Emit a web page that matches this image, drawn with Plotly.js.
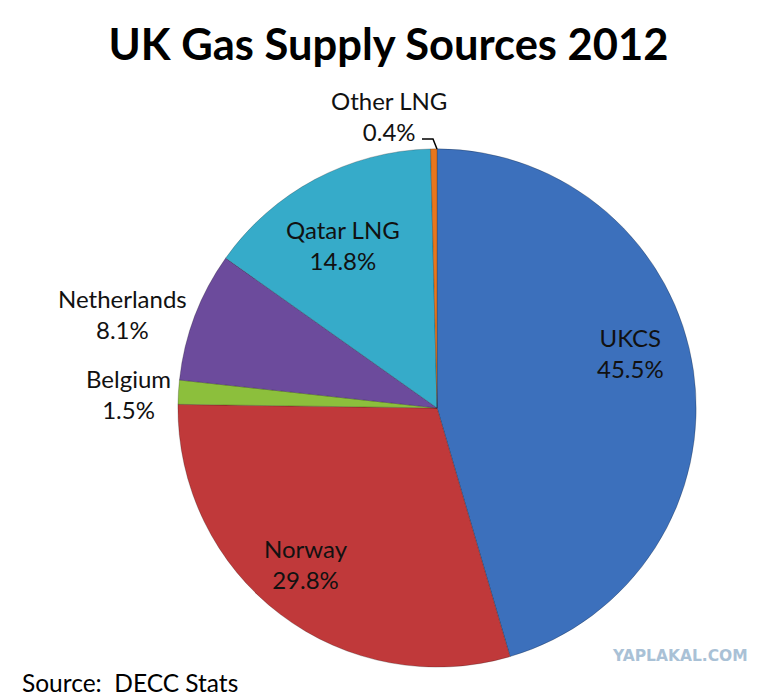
<!DOCTYPE html>
<html>
<head>
<meta charset="utf-8">
<script src="https://cdn.plot.ly/plotly-3.0.1.min.js"></script>
<style>html,body{margin:0;padding:0;background:#fff;}#chart{width:777px;height:698px;}</style>
</head>
<body>
<div id="chart"></div>
<script>
var categories = ["UKCS", "Norway", "Belgium", "Netherlands", "Qatar LNG", "Other LNG"];
var shares = [45.5, 29.8, 1.5, 8.1, 14.8, 0.4];
var sliceColors = ["#3c70bc", "#c0393a", "#8cbf3c", "#6c4b9c", "#36abc9", "#e8761c"];

var W = 777, H = 698;
var font = "Lato, 'Open Sans', sans-serif";
// label anchor points (pixels in the page) for each category
var labelPixel = [[630, 353], [306, 564], [128, 394], [123, 314], [343, 245], [389, 116]];

var trace = {
  type: "pie",
  labels: categories,
  values: shares,
  sort: false,
  direction: "clockwise",
  rotation: 0,
  marker: {colors: sliceColors, line: {color: "rgba(0,0,0,0.22)", width: 1}},
  textinfo: "none",
  hoverinfo: "label+percent",
  domain: {x: [0.229, 0.896], y: [0.044, 0.787]},
  showlegend: false
};

var annotations = categories.map(function(c, i){
  return {
    text: c + "<br>" + shares[i].toFixed(1) + "%",
    xref: "paper", yref: "paper",
    x: labelPixel[i][0] / W, y: 1 - labelPixel[i][1] / H,
    xanchor: "center", yanchor: "middle",
    showarrow: false, align: "center",
    font: {family: font, size: 24, color: "#111"}
  };
});
annotations.push(
  {text: "Source:  DECC Stats", xref: "paper", yref: "paper", x: 20 / W, y: 1 - 682 / H, xanchor: "left", yanchor: "middle", showarrow: false, font: {family: font, size: 24.5, color: "#000"}},
  {text: "<b>YAPLAKAL.COM</b>", xref: "paper", yref: "paper", x: 750 / W, y: 1 - 656 / H, xanchor: "right", yanchor: "middle", showarrow: false, font: {family: "'DejaVu Sans', sans-serif", size: 15.5, color: "#a9c1d6"}}
);

var layout = {
  width: W, height: H,
  margin: {l: 0, r: 0, t: 0, b: 0},
  paper_bgcolor: "#fff",
  title: {text: "<b>UK Gas Supply Sources 2012</b>", font: {family: font, size: 43.5, color: "#000"}, x: 0.5, xanchor: "center", y: 1 - 45 / H, yanchor: "middle"},
  annotations: annotations,
  shapes: [
    {type: "path", xref: "paper", yref: "paper",
     path: "M" + (422 / W) + "," + (1 - 139 / H) + " L" + (433 / W) + "," + (1 - 139 / H) + " L" + (437 / W) + "," + (1 - 149 / H),
     line: {color: "#000", width: 1.5}}
  ]
};

Plotly.newPlot("chart", [trace], layout, {displayModeBar: false});
</script>
</body>
</html>
